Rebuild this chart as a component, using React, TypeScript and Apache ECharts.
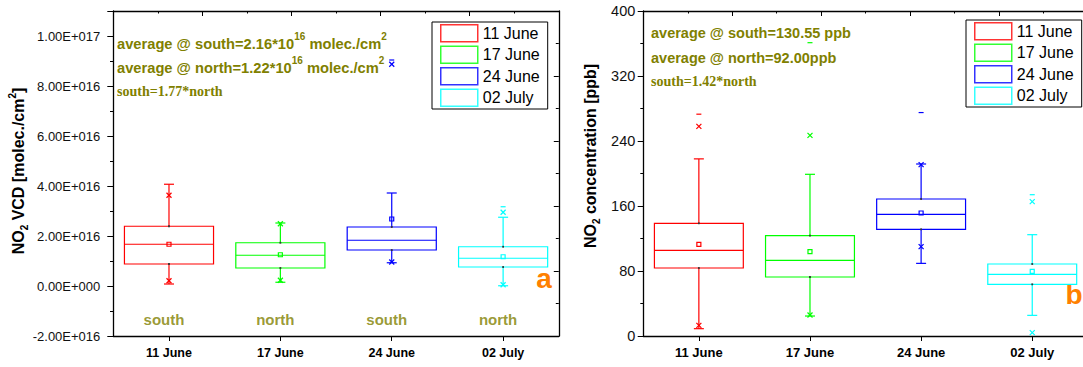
import React, { useEffect, useRef } from 'react';
import * as echarts from 'echarts';

const categories = ['11 June', '17 June', '24 June', '02 July'];
const colors = ['#ff0000', '#00ff00', '#0000ff', '#00ffff'];

// Panel a: NO2 VCD, in units of 1e16 molec./cm2
const vcdLow = [0.08, 0.15, 0.93, 0.01];
const vcdQ1 = [0.88, 0.72, 1.44, 0.76];
const vcdMedian = [1.67, 1.23, 1.83, 1.11];
const vcdQ3 = [2.39, 1.73, 2.36, 1.57];
const vcdHigh = [4.07, 2.52, 3.72, 2.75];
const vcdMean = [1.67, 1.25, 2.68, 1.17];
const vcdP1 = [0.21, 0.23, 0.96, 0.05];
const vcdP99 = [3.63, 2.49, 8.87, 2.95];
const vcdMax = [null, null, 9.04, 3.17];
const vcdRegions = ['south', 'north', 'south', 'north'];
const vcdRegionY = -1.35;

// Panel b: NO2 concentration, ppb
const ppbLow = [9.0, 24.6, 89.4, 25.4];
const ppbQ1 = [83.7, 72.6, 131.3, 63.6];
const ppbMedian = [105.4, 93.1, 149.7, 75.9];
const ppbQ3 = [138.7, 123.5, 168.6, 88.6];
const ppbHigh = [218, 199, 211.7, 124.7];
const ppbMean = [112.8, 103.8, 151.4, 79.6];
const ppbP1 = [13.1, 25.8, 110, 4.1];
const ppbP99 = [258, 247, 211, 165.3];
const ppbMax = [273, 361, 275, 173.9];

const SANS = 'Liberation Sans, Arial, sans-serif';
const SERIF = 'Liberation Serif, Times New Roman, serif';
const OLIVE = '#808000';

type Stats = {
  low: number[]; q1: number[]; median: number[]; q3: number[]; high: number[];
  mean: number[]; p1: number[]; p99: number[]; max: (number | null)[];
};

const vcd: Stats = { low: vcdLow, q1: vcdQ1, median: vcdMedian, q3: vcdQ3, high: vcdHigh, mean: vcdMean, p1: vcdP1, p99: vcdP99, max: vcdMax };
const ppb: Stats = { low: ppbLow, q1: ppbQ1, median: ppbMedian, q3: ppbQ3, high: ppbHigh, mean: ppbMean, p1: ppbP1, p99: ppbP99, max: ppbMax };

function makeRender(s: Stats) {
  return (params: any, api: any) => {
    const i = params.dataIndex;
    const c = colors[i];
    const cx = api.coord([i, s.median[i]])[0];
    const y = (v: number) => api.coord([i, v])[1];
    const bw = api.size([1, 0])[0] * 0.8;
    const half = bw / 2;
    const cap = 5;
    const lw = 1.2;
    const st = { stroke: c, lineWidth: lw, fill: 'none' };
    const yLow = y(s.low[i]);
    const yQ1 = y(s.q1[i]);
    const yMed = y(s.median[i]);
    const yQ3 = y(s.q3[i]);
    const yHigh = y(s.high[i]);
    const yMean = y(s.mean[i]);
    const cross = (yy: number) => [
      { type: 'line', shape: { x1: cx - 2.5, y1: yy - 2.5, x2: cx + 2.5, y2: yy + 2.5 }, style: st },
      { type: 'line', shape: { x1: cx - 2.5, y1: yy + 2.5, x2: cx + 2.5, y2: yy - 2.5 }, style: st },
    ];
    const children: any[] = [
      { type: 'line', shape: { x1: cx, y1: yQ3, x2: cx, y2: yHigh }, style: st },
      { type: 'line', shape: { x1: cx, y1: yQ1, x2: cx, y2: yLow }, style: st },
      { type: 'line', shape: { x1: cx - cap, y1: yHigh, x2: cx + cap, y2: yHigh }, style: st },
      { type: 'line', shape: { x1: cx - cap, y1: yLow, x2: cx + cap, y2: yLow }, style: st },
      { type: 'rect', shape: { x: cx - half, y: yQ3, width: bw, height: yQ1 - yQ3 }, style: st },
      { type: 'line', shape: { x1: cx - half, y1: yMed, x2: cx + half, y2: yMed }, style: st },
      { type: 'rect', shape: { x: cx - 0.9, y: yQ3 - 0.9, width: 1.8, height: 1.8 }, style: { fill: '#333' } },
      { type: 'rect', shape: { x: cx - 0.9, y: yQ1 - 0.9, width: 1.8, height: 1.8 }, style: { fill: '#333' } },
      { type: 'rect', shape: { x: cx - 2, y: yMean - 2, width: 4, height: 4 }, style: st },
      ...cross(y(s.p1[i])),
      ...cross(y(s.p99[i])),
    ];
    const mx = s.max[i];
    if (mx !== null && mx !== undefined) {
      const ym = y(mx);
      children.push({ type: 'line', shape: { x1: cx - 2.5, y1: ym, x2: cx + 2.5, y2: ym }, style: st });
    }
    return { type: 'group', children };
  };
}

const fmtE = (v: number) => {
  if (Math.abs(v % 2) > 1e-9) return '';
  const s = (v * 1e16).toExponential(2);
  const [m, e] = s.split('e');
  const sign = e[0] === '-' ? '-' : '+';
  const digits = e.replace(/[+-]/, '').padStart(3, '0');
  return `${m}E${sign}${digits}`;
};

const axisLine = { show: true, onZero: false, lineStyle: { color: '#000', width: 1.3 } };

function frameX(gridIndex: number) {
  return {
    type: 'value', gridIndex, position: 'top', min: 0, max: 10, interval: 2,
    axisLine, axisTick: { show: true, inside: true, length: 5, lineStyle: { color: '#000' } },
    minorTick: { show: true, splitNumber: 2, length: 2.5, lineStyle: { color: '#000' } },
    axisLabel: { show: false }, splitLine: { show: false },
  };
}

function catAxis(gridIndex: number, fontSize: number) {
  return {
    type: 'category', gridIndex, data: categories, position: 'bottom', boundaryGap: true,
    axisLine, axisTick: { show: true, alignWithLabel: true, length: 5, lineStyle: { color: '#000' } },
    axisLabel: { fontFamily: SANS, fontWeight: 'bold', fontSize, color: '#000', margin: 10 },
    splitLine: { show: false },
  };
}

const legendCommon = {
  orient: 'vertical', itemWidth: 37, itemHeight: 17, itemGap: 3, padding: [2, 8, 2, 8],
  borderColor: '#000', borderWidth: 1, selectedMode: false,
  textStyle: { fontSize: 16, color: '#000', fontFamily: SANS },
  data: categories.map((n, i) => ({ name: n, icon: 'rect', itemStyle: { color: '#fff', borderColor: colors[i], borderWidth: 1.5 } })),
};

const richT = (size: number) => ({ fontSize: size, fontWeight: 'bold', fontFamily: SANS, lineHeight: 26, fill: OLIVE });
const richS = { fontSize: 10, fontWeight: 'bold', fontFamily: SANS, lineHeight: 10, verticalAlign: 'top', fill: OLIVE };

const titleRich = {
  m: { fontSize: 16, fontWeight: 'bold', fontFamily: SANS, lineHeight: 22, fill: '#000' },
  b: { fontSize: 10, fontWeight: 'bold', fontFamily: SANS, lineHeight: 10, verticalAlign: 'bottom', fill: '#000' },
  p: { fontSize: 10, fontWeight: 'bold', fontFamily: SANS, lineHeight: 10, verticalAlign: 'top', fill: '#000' },
};

const option: any = {
  animation: false,
  backgroundColor: '#fff',
  grid: [
    { left: 113.3, top: 11, width: 445.5, height: 325, outerBoundsMode: 'none' },
    { left: 643.3, top: 11, width: 444.5, height: 325, outerBoundsMode: 'none' },
  ],
  xAxis: [catAxis(0, 12.5), frameX(0), catAxis(1, 13), frameX(1)],
  yAxis: [
    {
      type: 'value', gridIndex: 0, position: 'left', min: -2, max: 11, interval: 2,
      axisLine, axisTick: { show: true, length: 6, lineStyle: { color: '#000' } },
      minorTick: { show: true, splitNumber: 2, length: 3.3, lineStyle: { color: '#000' } },
      axisLabel: { formatter: fmtE, fontFamily: SANS, fontSize: 13, color: '#111', margin: 13 },
      splitLine: { show: false },
    },
    {
      type: 'value', gridIndex: 0, position: 'right', min: 0, max: 10, interval: 2,
      axisLine, axisTick: { show: true, inside: true, length: 5, lineStyle: { color: '#000' } },
      minorTick: { show: true, splitNumber: 2, length: 3, lineStyle: { color: '#000' } },
      axisLabel: { show: false }, splitLine: { show: false },
    },
    {
      type: 'value', gridIndex: 1, position: 'left', min: 0, max: 400, interval: 80,
      axisLine, axisTick: { show: true, length: 5.6, lineStyle: { color: '#000' } },
      minorTick: { show: true, splitNumber: 2, length: 3, lineStyle: { color: '#000' } },
      axisLabel: { fontFamily: SANS, fontSize: 14.5, color: '#111', margin: 8 },
      splitLine: { show: false },
    },
    {
      type: 'value', gridIndex: 1, position: 'right', min: 0, max: 400, interval: 80,
      axisLine, axisTick: { show: true, inside: true, length: 4, lineStyle: { color: '#000' } },
      axisLabel: { show: false }, splitLine: { show: false },
    },
  ],
  legend: [
    { ...legendCommon, left: 432, top: 22 },
    { ...legendCommon, left: 966, top: 20 },
  ],
  series: [
    {
      type: 'custom', name: 'vcd', xAxisIndex: 0, yAxisIndex: 0,
      renderItem: makeRender(vcd),
      data: categories.map((_, i) => [i, vcdLow[i], vcdQ1[i], vcdMedian[i], vcdQ3[i], vcdHigh[i]]),
      encode: { x: 0, y: [1, 2, 3, 4, 5] },
    },
    {
      type: 'custom', name: 'ppb', xAxisIndex: 2, yAxisIndex: 2,
      renderItem: makeRender(ppb),
      data: categories.map((_, i) => [i, ppbLow[i], ppbQ1[i], ppbMedian[i], ppbQ3[i], ppbHigh[i]]),
      encode: { x: 0, y: [1, 2, 3, 4, 5] },
    },
    {
      type: 'scatter', name: 'regions', xAxisIndex: 0, yAxisIndex: 0, symbolSize: 1,
      itemStyle: { color: 'rgba(0,0,0,0)' },
      data: categories.map((_, i) => [i, vcdRegionY]),
      label: {
        show: true, position: 'inside', offset: [-5, 0],
        formatter: (p: any) => vcdRegions[p.dataIndex],
        fontFamily: SANS, fontWeight: 'bold', fontSize: 15, color: OLIVE,
      },
    },
    ...categories.map((n, i) => ({
      type: 'scatter', name: n, xAxisIndex: 0, yAxisIndex: 0, data: [],
      itemStyle: { color: '#fff', borderColor: colors[i], borderWidth: 1.5 },
    })),
  ],
  graphic: [
    {
      type: 'text', x: 18, y: 171, rotation: Math.PI / 2,
      style: { text: '{m|NO}{b|2}{m| VCD [molec./cm}{p|2}{m|]}', rich: titleRich, align: 'center', verticalAlign: 'middle', fill: '#000' },
    },
    {
      type: 'text', x: 590, y: 156, rotation: Math.PI / 2,
      style: { text: '{m|NO}{b|2}{m| concentration [ppb]}', rich: titleRich, align: 'center', verticalAlign: 'middle', fill: '#000' },
    },
    {
      type: 'text', x: 117, y: 44,
      style: { text: '{t|average @ south=2.16*10}{s|16}{t| molec./cm}{s|2}', rich: { t: richT(14.7), s: richS }, align: 'left', verticalAlign: 'middle', fill: OLIVE },
    },
    {
      type: 'text', x: 117, y: 68,
      style: { text: '{t|average @ north=1.22*10}{s|16}{t| molec./cm}{s|2}', rich: { t: richT(14.7), s: richS }, align: 'left', verticalAlign: 'middle', fill: OLIVE },
    },
    {
      type: 'text', x: 117, y: 91.7,
      style: { text: 'south=1.77*north', font: `bold 14px ${SERIF}`, align: 'left', verticalAlign: 'middle', fill: OLIVE },
    },
    {
      type: 'text', x: 651, y: 33.3,
      style: { text: 'average @ south=130.55 ppb', font: `bold 14.5px ${SANS}`, align: 'left', verticalAlign: 'middle', fill: OLIVE },
    },
    {
      type: 'text', x: 651, y: 58.3,
      style: { text: 'average @ north=92.00ppb', font: `bold 14.5px ${SANS}`, align: 'left', verticalAlign: 'middle', fill: OLIVE },
    },
    {
      type: 'text', x: 651, y: 81.3,
      style: { text: 'south=1.42*north', font: `bold 14px ${SERIF}`, align: 'left', verticalAlign: 'middle', fill: OLIVE },
    },
    {
      type: 'text', x: 544, y: 278.5,
      style: { text: 'a', font: `bold 28px ${SANS}`, align: 'center', verticalAlign: 'middle', fill: '#ff8000' },
    },
    {
      type: 'text', x: 1074, y: 294,
      style: { text: 'b', font: `bold 28px ${SANS}`, align: 'center', verticalAlign: 'middle', fill: '#ff8000' },
    },
  ],
};

export default function App() {
  const ref = useRef<HTMLDivElement>(null);
  useEffect(() => {
    const chart = echarts.init(ref.current!, undefined, { renderer: 'svg' });
    chart.setOption(option);
    return () => chart.dispose();
  }, []);
  return (
    <div
      ref={ref}
      style={{ position: 'absolute', left: 0, top: 0, width: 1083, height: 367, background: '#fff' }}
    />
  );
}
